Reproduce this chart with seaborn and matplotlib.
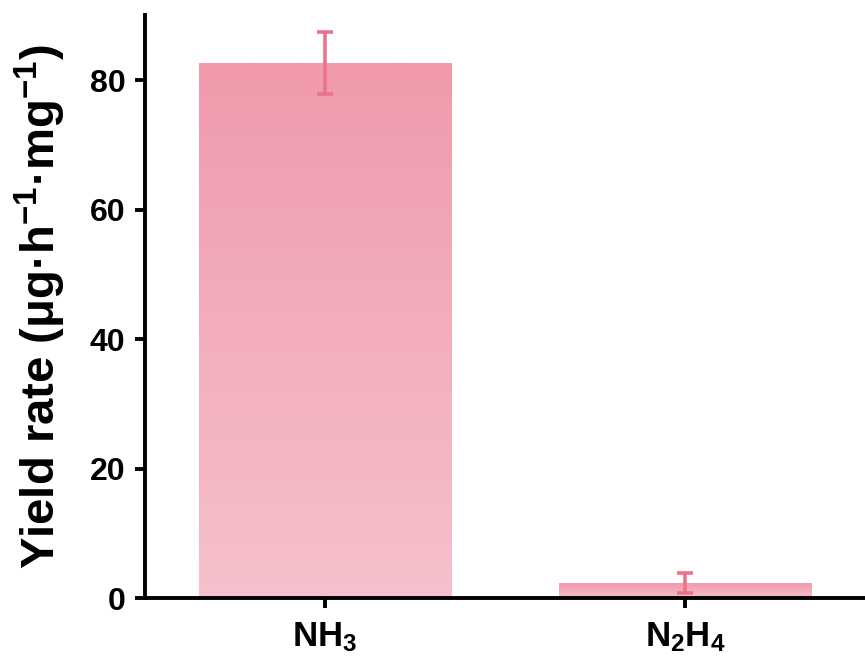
import numpy as np
import pandas as pd
import matplotlib
matplotlib.use("Agg")
import matplotlib.pyplot as plt
from matplotlib.colors import LinearSegmentedColormap
import seaborn as sns

categories = ["NH$_3$", "N$_2$H$_4$"]
yield_rate = [82.6, 2.3]
yield_err = [4.8, 1.6]

sns.set_theme(style="ticks")
plt.rcParams["font.family"] = ["Liberation Sans", "DejaVu Sans"]
plt.rcParams["font.weight"] = "bold"
plt.rcParams["mathtext.default"] = "regular"

df = pd.DataFrame({"species": categories, "rate": yield_rate})

fig = plt.figure(figsize=(8.65, 6.63), dpi=100)
ax = fig.add_axes([0.1676, 0.098, 0.8324, 0.879])

sns.barplot(data=df, x="species", y="rate", color="#F2A3B4", width=0.7,
            errorbar=None, ax=ax, saturation=1, linewidth=0)

# vertical pink gradient inside each bar (darker at the top)
cmap = LinearSegmentedColormap.from_list("pinkfade", ["#F5C1CC", "#F09AAC"])
grad = np.linspace(0, 1, 256).reshape(-1, 1)
centers = []
for patch in ax.patches:
    x0 = patch.get_x()
    w = patch.get_width()
    h = patch.get_height()
    centers.append(x0 + w / 2)
    patch.set_facecolor("none")
    im = ax.imshow(grad, extent=[x0, x0 + w, 0, h], origin="lower",
                   aspect="auto", cmap=cmap, zorder=1)
    im.set_clip_path(patch)

ax.errorbar(centers, yield_rate, yerr=yield_err, fmt="none",
            ecolor="#E8758B", elinewidth=2.6, capsize=5.5, capthick=2.6,
            zorder=3)

ax.set_xlim(-0.5, 1.5)
ax.set_ylim(0, 90)
ax.set_yticks([0, 20, 40, 60, 80])
ax.set_xlabel("")
ax.set_ylabel("Yield rate (μg·h$^{-1}$·mg$^{-1}$)", fontsize=34,
              fontweight="bold", color="black")
ax.yaxis.set_label_coords(-0.107, 0.5)

for side in ("top", "right"):
    ax.spines[side].set_visible(False)
for side in ("left", "bottom"):
    ax.spines[side].set_linewidth(2.8)
    ax.spines[side].set_color("black")

ax.tick_params(axis="both", which="major", direction="out", length=7,
               width=2.8, color="black")
ax.tick_params(axis="y", labelsize=23, pad=7)
ax.tick_params(axis="x", labelsize=25, pad=9)
for lbl in ax.get_xticklabels() + ax.get_yticklabels():
    lbl.set_fontweight("bold")
    lbl.set_color("black")

fig.savefig("out.png", dpi=100)
